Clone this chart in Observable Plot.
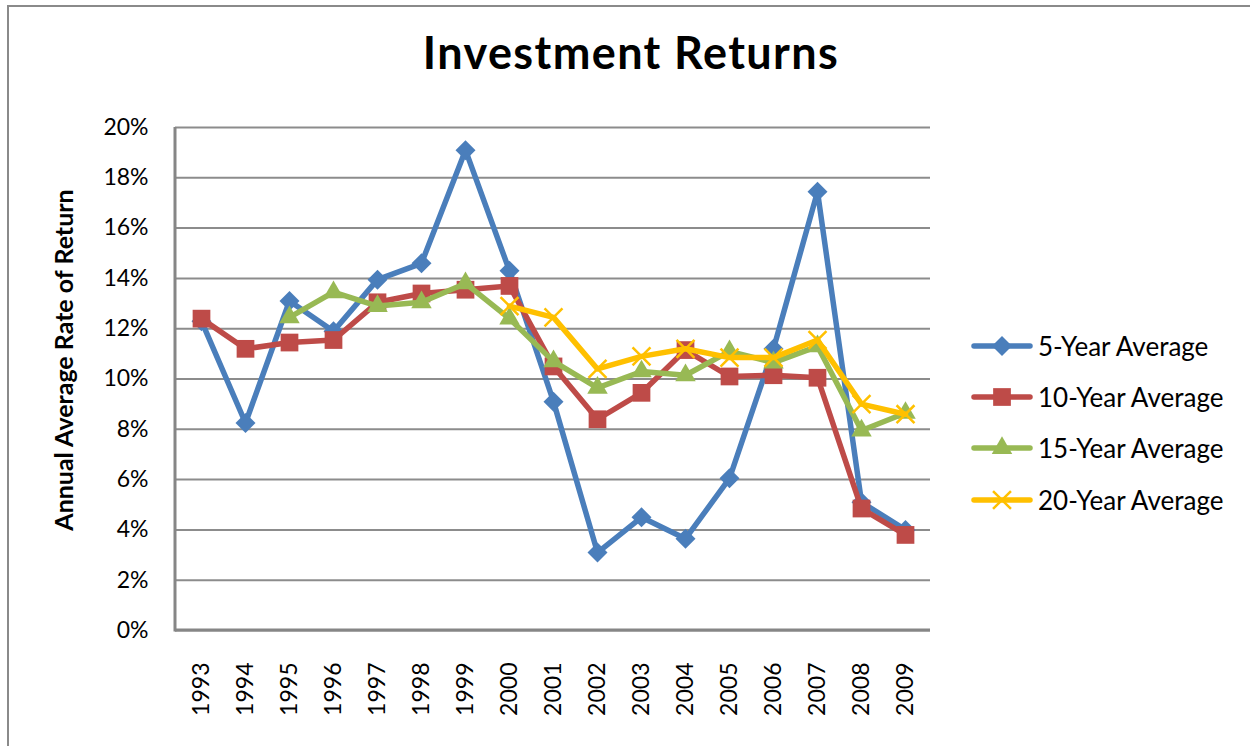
<!DOCTYPE html>
<html>
<head>
<meta charset="utf-8">
<script src="https://cdn.jsdelivr.net/npm/d3@7"></script>
<script src="https://cdn.jsdelivr.net/npm/@observablehq/plot@0.6"></script>
<style>
  html, body { margin: 0; padding: 0; background: #fff; overflow: hidden; }
  #wrap { position: relative; width: 1250px; height: 746px; overflow: hidden; font-family: Lato, "Open Sans", sans-serif; color: #000; }
  #border { position: absolute; left: 7px; top: 5px; width: 1400px; height: 900px; border: 2px solid #8a8a8a; box-sizing: border-box; }
  #chart { position: absolute; left: 0; top: 0; }
  #title { position: absolute; left: 6px; top: 30px; width: 1250px; text-align: center; font-weight: 700; font-size: 45px; letter-spacing: 1.4px; line-height: 1; }
  #ylabel { position: absolute; left: -137px; top: 345px; width: 400px; height: 30px; line-height: 30px; text-align: center; font-weight: 700; font-size: 25px; transform: rotate(-90deg); }
  #legend { position: absolute; left: 971px; top: 320px; }
  #legend .row { display: flex; align-items: center; height: 51.3px; font-size: 26px; }
  #legend svg { margin-right: 5px; }
</style>
</head>
<body>
<div id="wrap">
  <div id="border"></div>
  <div id="chart"></div>
  <div id="title">Investment Returns</div>
  <div id="ylabel">Annual Average Rate of Return</div>
  <div id="legend"></div>
</div>
<script>
const years = [1993, 1994, 1995, 1996, 1997, 1998, 1999, 2000, 2001, 2002, 2003, 2004, 2005, 2006, 2007, 2008, 2009];
const fiveYear    = [12.3, 8.25, 13.1, 11.9, 13.95, 14.6, 19.1, 14.3, 9.1, 3.1, 4.5, 3.65, 6.05, 11.2, 17.45, 5.1, 4.0];
const tenYear     = [12.4, 11.2, 11.45, 11.55, 13.05, 13.4, 13.55, 13.7, 10.5, 8.4, 9.45, 11.15, 10.1, 10.15, 10.05, 4.85, 3.8];
const fifteenYear = [null, null, 12.45, 13.45, 12.9, 13.05, 13.8, 12.4, 10.7, 9.65, 10.3, 10.15, 11.1, 10.65, 11.3, 7.95, 8.65];
const twentyYear  = [null, null, null, null, null, null, null, 12.9, 12.45, 10.4, 10.9, 11.2, 10.85, 10.85, 11.55, 9.0, 8.6];
const seriesNames = ["5-Year Average", "10-Year Average", "15-Year Average", "20-Year Average"];
const seriesValues = [fiveYear, tenYear, fifteenYear, twentyYear];
const seriesColors = ["#4A7EBB", "#BE4B48", "#98B954", "#FFC000"];
const seriesSymbols = ["diamond2", "square", "triangle", "times"];
const seriesRadius = [9, 10, 7.6, 8.2];
const yTicks = [0, 2, 4, 6, 8, 10, 12, 14, 16, 18, 20];

const rows = seriesNames.flatMap((name, i) =>
  years.map((year, j) => ({ series: name, year, value: seriesValues[i][j] }))
       .filter(d => d.value != null)
);

const marks = [
  Plot.gridY(yTicks, { stroke: "#8c8c8c", strokeOpacity: 1, strokeWidth: 2 }),
  Plot.axisY(yTicks, { tickSize: 0, tickPadding: 27, tickFormat: d => d + "%", fontSize: 23, label: null }),
  Plot.axisX({ tickSize: 0, tickRotate: -90, tickPadding: 32, fontSize: 23, tickFormat: d => String(d), label: null })
];
seriesNames.forEach((name, i) => {
  const d = rows.filter(r => r.series === name);
  marks.push(Plot.line(d, { x: "year", y: "value", stroke: seriesColors[i], strokeWidth: 5.5, strokeLinejoin: "round", strokeLinecap: "round" }));
  const isStroke = seriesSymbols[i] === "times";
  marks.push(Plot.dot(d, {
    x: "year", y: "value", symbol: seriesSymbols[i], r: seriesRadius[i],
    fill: isStroke ? "none" : seriesColors[i],
    stroke: isStroke ? seriesColors[i] : "none",
    strokeWidth: isStroke ? 2.5 : 0
  }));
});

const chart = Plot.plot({
  width: 1250, height: 746,
  marginLeft: 175, marginRight: 320, marginTop: 127, marginBottom: 116,
  style: { fontFamily: "Lato, 'Open Sans', sans-serif", color: "#000", background: "transparent", overflow: "visible" },
  x: { type: "point", domain: years, padding: 0.5 },
  y: { domain: [0, 20] },
  marks
});

// axis lines (left and bottom) from the scales' ranges, drawn under the data
const xs = chart.scale("x"), ys = chart.scale("y");
const [xa, xb] = xs.range, [yBottom, yTop] = ys.range;
const grid = chart.querySelector('[aria-label="y-grid"]');
const axisG = document.createElementNS("http://www.w3.org/2000/svg", "g");
grid.after(axisG);
d3.select(axisG).append("line").attr("x1", xa).attr("x2", xb).attr("y1", yBottom).attr("y2", yBottom)
  .attr("stroke", "#868686").attr("stroke-width", 3);
d3.select(axisG).append("line").attr("x1", xa).attr("x2", xa).attr("y1", yTop).attr("y2", yBottom + 1.5)
  .attr("stroke", "#868686").attr("stroke-width", 3);

document.getElementById("chart").appendChild(chart);

// legend
const symbolMap = { diamond2: d3.symbolDiamond2, square: d3.symbolSquare, triangle: d3.symbolTriangle, times: d3.symbolTimes };
const legend = d3.select("#legend");
seriesNames.forEach((name, i) => {
  const row = legend.append("div").attr("class", "row");
  const s = row.append("svg").attr("width", 62).attr("height", 26);
  s.append("line").attr("x1", 3).attr("x2", 59).attr("y1", 13).attr("y2", 13)
    .attr("stroke", seriesColors[i]).attr("stroke-width", 5.5).attr("stroke-linecap", "round");
  const isStroke = seriesSymbols[i] === "times";
  const r = seriesRadius[i];
  s.append("path").attr("transform", "translate(31,13)")
    .attr("d", d3.symbol(symbolMap[seriesSymbols[i]], Math.PI * r * r)())
    .attr("fill", isStroke ? "none" : seriesColors[i])
    .attr("stroke", isStroke ? seriesColors[i] : "none")
    .attr("stroke-width", isStroke ? 2.5 : 0);
  row.append("span").text(name);
});
</script>
</body>
</html>
